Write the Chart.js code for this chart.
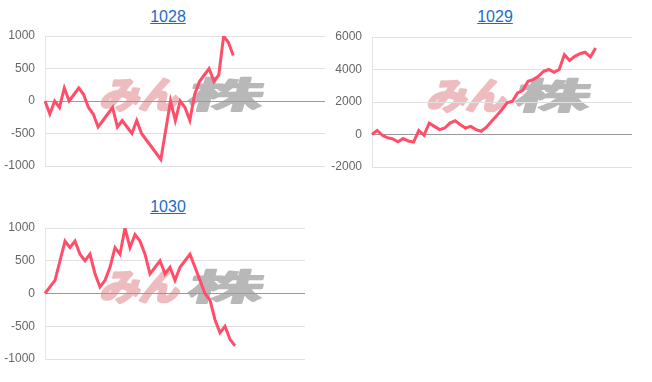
<!DOCTYPE html>
<html>
<head>
<meta charset="utf-8">
<script src="https://cdn.jsdelivr.net/npm/chart.js@4"></script>
<style>
  body { margin: 0; background: #fff; width: 652px; height: 382px; position: relative; overflow: hidden; font-family: "Liberation Sans", Arial, sans-serif; }
  .title { position: absolute; width: 336px; text-align: center; font-size: 16px; line-height: 18px; }
  .title a { color: #1a6dc4; text-decoration: underline; }
  canvas { position: absolute; }
</style>
</head>
<body>
<div class="title" style="left:0;top:8px"><a href="#">1028</a></div>
<div class="title" style="left:327px;top:8px"><a href="#">1029</a></div>
<div class="title" style="left:0;top:198px"><a href="#">1030</a></div>
<canvas id="c1" style="left:0;top:26px"></canvas>
<canvas id="c2" style="left:327px;top:27px"></canvas>
<canvas id="c3" style="left:0;top:218px"></canvas>
<script>
// chart titles
const titles = ['1028', '1029', '1030'];

// slot counts on each x axis (the day is not filled to the end)
const slots1028 = 59;
const slots1029 = 51;
const slots1030 = 53;

// values
const values1028 = [0, -200, 0, -100, 200, 0, 100, 200, 100, -100, -200, -400, -300, -200, -100, -400,
  -300, -400, -500, -300, -500, -600, -700, -800, -900, -450, 0, -300, 0, -100, -300, 100, 300, 400,
  500, 300, 400, 1000, 900, 700];
const values1029 = [0, 250, -50, -200, -270, -450, -250, -400, -470, 250, -50, 700, 500, 300, 400, 700,
  850, 600, 400, 500, 300, 200, 450, 820, 1170, 1540, 1950, 2050, 2560, 2720, 3280, 3380, 3580, 3890,
  4000, 3830, 4000, 4910, 4560, 4810, 4970, 5060, 4770, 5320];
const values1030 = [0, 100, 200, 500, 800, 700, 800, 600, 500, 600, 300, 100, 200, 400, 700, 600, 1000,
  700, 900, 800, 600, 300, 400, 500, 300, 400, 200, 400, 500, 600, 400, 200, 0, -100, -400, -600, -500,
  -700, -800];

// y tick labels
const yTicks1028 = [-1000, -500, 0, 500, 1000];
const yTicks1029 = [-2000, 0, 2000, 4000, 6000];
const yTicks1030 = [-1000, -500, 0, 500, 1000];

// watermark drawn behind the grid
const logoPlugin = {
    id: 'logo',
    beforeDraw(chart) {
        const ctx = chart.ctx;
        ctx.save();
        ctx.translate(185, 68);
        ctx.transform(1, 0, -0.28, 1, 0, 0);
        ctx.textBaseline = 'middle';
        ctx.font = 'bold 36px "Noto Sans CJK JP"';
        ctx.lineJoin = 'round';
        ctx.lineWidth = 3;

        ctx.save();
        ctx.scale(1.1, 1);
        ctx.textAlign = 'right';
        ctx.fillStyle = ctx.strokeStyle = '#eebcbf';
        ctx.strokeText('みん', -3, 0);
        ctx.fillText('みん', -3, 0);
        ctx.restore();

        ctx.scale(2.1, 1);
        ctx.textAlign = 'left';
        ctx.lineWidth = 1.5;
        ctx.fillStyle = ctx.strokeStyle = '#b8b8b8';
        ctx.strokeText('株', 2, 0);
        ctx.fillText('株', 2, 0);
        ctx.restore();
    }
};

function makeChart(id, w, h, slots, values, ticks) {
    const canvas = document.getElementById(id);
    canvas.width = w;
    canvas.height = h;
    canvas.style.width = w + 'px';
    canvas.style.height = h + 'px';
    const labels = Array.from({ length: slots }, (_, i) => i);
    return new Chart(canvas, {
        type: 'line',
        data: {
            labels: labels,
            datasets: [{
                data: values,
                borderColor: '#ff4d6a',
                borderWidth: 3,
                pointRadius: 0,
                tension: 0,
                fill: false
            }]
        },
        options: {
            responsive: false,
            animation: false,
            layout: { padding: { top: 10, bottom: 10, right: 5, left: 0 } },
            plugins: { legend: { display: false }, tooltip: { enabled: false } },
            scales: {
                x: { display: false },
                y: {
                    min: ticks[0],
                    max: ticks[ticks.length - 1],
                    ticks: {
                        stepSize: ticks[1] - ticks[0],
                        callback: v => String(v),
                        color: '#666',
                        padding: 0,
                        font: { family: '"Liberation Sans", Arial', size: 12 }
                    },
                    grid: {
                        drawTicks: true,
                        tickLength: 10,
                        tickColor: 'rgba(0,0,0,0)',
                        color: c => (c.tick && c.tick.value === 0) ? '#9a9a9a' : '#e0e0e0',
                        lineWidth: 1
                    },
                    border: { display: true, color: '#e4e4e4' },
                    afterFit: s => { s.width = 45; }
                }
            }
        },
        plugins: [logoPlugin]
    });
}

makeChart('c1', 330, 150, slots1028, values1028, yTicks1028);
makeChart('c2', 310, 150, slots1029, values1029, yTicks1029);
makeChart('c3', 310, 151, slots1030, values1030, yTicks1030);
</script>
</body>
</html>
